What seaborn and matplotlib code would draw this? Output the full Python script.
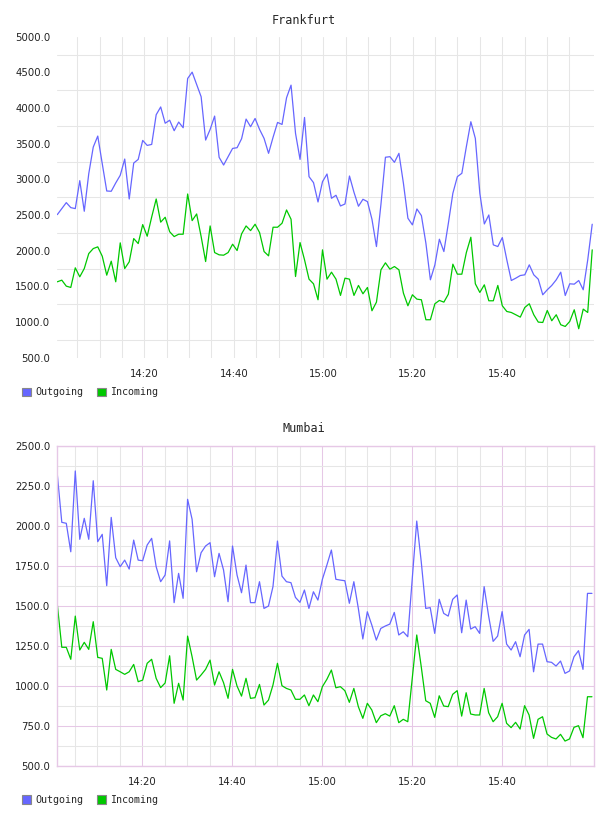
import matplotlib
matplotlib.use('Agg')
import matplotlib.pyplot as plt
import matplotlib.dates as mdates
from matplotlib.patches import Patch
from matplotlib.ticker import MultipleLocator, FixedLocator, FormatStrFormatter
import numpy as np
import pandas as pd
import seaborn as sns

# Frankfurt series (one sample per minute)
frankfurt_out = [2506, 2590, 2674, 2604, 2590, 2982, 2553, 3080, 3453, 3607,
                 3220, 2837, 2833, 2950, 3057, 3285, 2725, 3229, 3280, 3546,
                 3476, 3490, 3906, 4015, 3787, 3829, 3682, 3803, 3724, 4414,
                 4503, 4330, 4158, 3551, 3700, 3887, 3309, 3201, 3318, 3434,
                 3444, 3570, 3845, 3738, 3854, 3700, 3574, 3365, 3590, 3798,
                 3770, 4144, 4321, 3644, 3280, 3868, 3038, 2954, 2683, 2968,
                 3075, 2735, 2777, 2627, 2655, 3047, 2819, 2623, 2721, 2688,
                 2441, 2058, 2650, 3310, 3318, 3239, 3365, 2945, 2455, 2362,
                 2585, 2492, 2105, 1592, 1802, 2161, 1988, 2385, 2805, 3038,
                 3085, 3458, 3808, 3574, 2805, 2375, 2501, 2082, 2058, 2184,
                 1872, 1582, 1615, 1652, 1662, 1802, 1662, 1601, 1382, 1452,
                 1513, 1592, 1699, 1372, 1536, 1531, 1582, 1452, 1870, 2371]
frankfurt_in = [1564, 1587, 1503, 1485, 1760, 1634, 1750, 1960, 2030, 2054,
                1923, 1657, 1853, 1564, 2110, 1750, 1844, 2170, 2100, 2366,
                2203, 2473, 2725, 2400, 2469, 2266, 2198, 2231, 2231, 2795,
                2422, 2515, 2198, 1848, 2347, 1974, 1942, 1937, 1974, 2091,
                2002, 2236, 2347, 2282, 2371, 2254, 1988, 1928, 2329, 2329,
                2385, 2571, 2441, 1638, 2114, 1872, 1601, 1536, 1312, 2012,
                1601, 1699, 1601, 1373, 1615, 1601, 1373, 1513, 1396, 1485,
                1158, 1279, 1732, 1830, 1741, 1778, 1732, 1405, 1228, 1382,
                1321, 1312, 1032, 1032, 1256, 1303, 1279, 1391, 1811, 1671,
                1671, 1974, 2189, 1536, 1415, 1522, 1298, 1298, 1513, 1228,
                1148, 1134, 1102, 1069, 1204, 1256, 1102, 999, 994, 1162,
                1018, 1102, 962, 938, 1008, 1172, 906, 1181, 1134, 2012]

# Mumbai series
mumbai_out = [2321, 2021, 2015, 1837, 2342, 1915, 2046, 1915, 2281, 1900,
              1946, 1625, 2052, 1800, 1744, 1785, 1729, 1910, 1785, 1781,
              1879, 1921, 1744, 1650, 1692, 1905, 1519, 1702, 1546, 2165,
              2040, 1712, 1831, 1873, 1894, 1681, 1827, 1723, 1525, 1873,
              1692, 1581, 1754, 1519, 1519, 1650, 1483, 1498, 1619, 1904,
              1685, 1650, 1644, 1552, 1521, 1598, 1483, 1587, 1535, 1665,
              1754, 1848, 1665, 1660, 1656, 1515, 1650, 1483, 1292, 1462,
              1379, 1285, 1358, 1373, 1385, 1458, 1317, 1337, 1306, 1669,
              2029, 1775, 1483, 1488, 1327, 1540, 1452, 1435, 1540, 1567,
              1331, 1535, 1354, 1369, 1327, 1619, 1435, 1277, 1310, 1463,
              1260, 1223, 1275, 1181, 1317, 1352, 1087, 1260, 1260, 1150,
              1146, 1123, 1154, 1077, 1092, 1181, 1219, 1102, 1577, 1577]
mumbai_in = [1508, 1240, 1240, 1165, 1435, 1223, 1271, 1227, 1400, 1177,
             1171, 973, 1227, 1102, 1087, 1071, 1087, 1133, 1025, 1035,
             1140, 1165, 1046, 988, 1017, 1187, 890, 1015, 910, 1310,
             1181, 1035, 1067, 1102, 1160, 1004, 1087, 1019, 921, 1102,
             998, 935, 1046, 921, 925, 1008, 879, 910, 1004, 1140,
             1000, 983, 973, 915, 915, 942, 875, 942, 900, 994,
             1040, 1098, 987, 994, 969, 896, 983, 869, 796, 890,
             848, 769, 812, 825, 810, 875, 769, 790, 775, 1046,
             1317, 1119, 906, 890, 802, 937, 873, 869, 946, 969,
             810, 956, 823, 817, 817, 983, 831, 775, 806, 890,
             765, 738, 771, 729, 875, 817, 671, 790, 806, 698,
             677, 667, 696, 654, 667, 740, 750, 675, 931, 931]

series_names = ['Outgoing', 'Incoming']
colors = {'Outgoing': '#6666ff', 'Incoming': '#00c800'}

frankfurt_time = pd.date_range('2024-01-01 14:00:32', '2024-01-01 16:00:07', periods=120)
mumbai_time = pd.date_range('2024-01-01 14:01:07', '2024-01-01 15:59:56', periods=120)

# labelled times and 5-minute grid times
label_times = pd.date_range('2024-01-01 14:20', '2024-01-01 15:40', freq='20min')
grid_times = pd.date_range('2024-01-01 14:05', '2024-01-01 15:55', freq='5min')

W, H = 608, 816
fig = plt.figure(figsize=(W / 100, H / 100), dpi=100)
sns.set_style('white')
plt.rcParams['font.family'] = ['DejaVu Sans']

GRAY = '#e6e6e6'
PINK = '#e6c8e6'
MONO = 'DejaVu Sans Mono'


def long_df(times, out, inc):
    return pd.DataFrame({
        'time': list(times) * 2,
        'value': out + inc,
        'series': ['Outgoing'] * len(out) + ['Incoming'] * len(inc),
    })


def draw(ax, df, title, title_y, legend_y, xlim):
    sns.lineplot(data=df, x='time', y='value', hue='series', palette=colors,
                 hue_order=series_names, ax=ax, legend=False, linewidth=0.9)
    ax.set_xlim(pd.Timestamp(xlim[0]), pd.Timestamp(xlim[1]))
    ax.set_xlabel('')
    ax.set_ylabel('')
    ax.xaxis.set_major_locator(FixedLocator(mdates.date2num(label_times)))
    ax.xaxis.set_minor_locator(FixedLocator(mdates.date2num(grid_times)))
    ax.xaxis.set_major_formatter(mdates.DateFormatter('%H:%M'))
    ax.yaxis.set_major_formatter(FormatStrFormatter('%.1f'))
    ax.tick_params(which='both', length=0, labelsize=7.3, colors='#222222')
    ax.tick_params(axis='x', pad=8)
    ax.tick_params(axis='y', pad=5)
    ax.set_axisbelow(True)
    fig.text(0.5, 1 - title_y / H, title, ha='center', va='center',
             family=MONO, size=8.5)
    handles = [Patch(facecolor=colors[n], edgecolor='#888888', linewidth=0.8)
               for n in series_names]
    fig.legend(handles, series_names, loc='center left',
               bbox_to_anchor=(22 / W, 1 - legend_y / H), ncol=2, frameon=False,
               prop={'family': MONO, 'size': 7.2}, handlelength=0.9,
               handleheight=0.9, handletextpad=0.4, columnspacing=1.4,
               borderpad=0, borderaxespad=0)


# Frankfurt
ax1 = fig.add_axes([57.3 / W, 1 - 357.7 / H, 536.7 / W, 321 / H])
draw(ax1, long_df(frankfurt_time, frankfurt_out, frankfurt_in), 'Frankfurt',
     20, 392.5, ('2024-01-01 14:00:32', '2024-01-01 16:00:31'))
ax1.set_ylim(500, 5000)
ax1.yaxis.set_major_locator(MultipleLocator(500))
ax1.yaxis.set_minor_locator(FixedLocator(np.arange(750, 5000, 500)))
ax1.xaxis.grid(True, which='both', color=GRAY, linewidth=0.75)
ax1.yaxis.grid(True, which='minor', color=GRAY, linewidth=0.75)
ax1.yaxis.grid(False, which='major')
for s in ax1.spines.values():
    s.set_visible(False)

# Mumbai
ax2 = fig.add_axes([57.3 / W, 1 - 765.7 / H, 536.7 / W, 320 / H])
draw(ax2, long_df(mumbai_time, mumbai_out, mumbai_in), 'Mumbai',
     429, 800, ('2024-01-01 14:01:07', '2024-01-01 16:00:23'))
ax2.set_ylim(500, 2500)
ax2.yaxis.set_major_locator(MultipleLocator(250))
ax2.yaxis.set_minor_locator(FixedLocator(np.arange(625, 2500, 250)))
ax2.grid(True, which='major', color=PINK, linewidth=0.75)
ax2.grid(True, which='minor', color=GRAY, linewidth=0.75)
for s in ax2.spines.values():
    s.set_visible(True)
    s.set_color(PINK)
    s.set_linewidth(1.0)

fig.savefig('out.png', dpi=100)
